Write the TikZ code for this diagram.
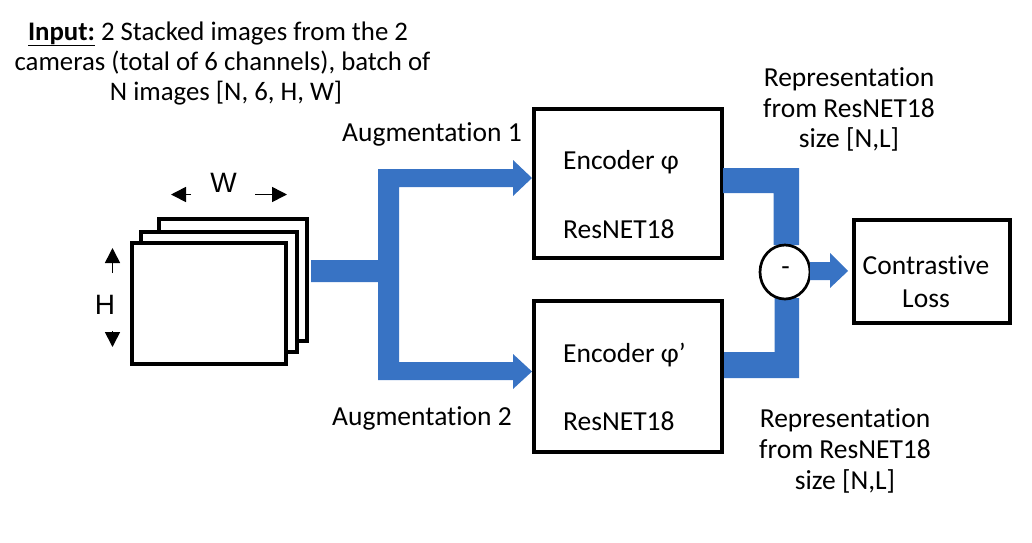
\documentclass[tikz,border=0pt]{standalone}
\usepackage{fontspec}
\setmainfont{Carlito}[Ligatures=NoCommon]
\newfontfamily\arialf{Liberation Sans}
\usetikzlibrary{arrows.meta,shapes.geometric}
\definecolor{flowblue}{RGB}{56,115,196}
\begin{document}
\begin{tikzpicture}[x=1pt,y=-1pt,
  box/.style={draw=black,line width=4pt,fill=white,rectangle,inner sep=0pt},
  txt/.style={inner sep=0pt,font=\fontsize{27.5}{31}\selectfont},
  intxt/.style={inner sep=0pt,font=\fontsize{26.8}{30}\selectfont},
  dimtxt/.style={inner sep=0pt,font=\arialf\fontsize{28}{32}\selectfont},
  flow/.style={fill=flowblue,draw=none},
  dimarrow/.style={line width=1.6pt,-{Triangle[length=15pt,width=15pt]}}]
\useasboundingbox (0,0) rectangle (1032,542);
% input description
\node[intxt,anchor=base] (in1) at (218,40) {\underline{\textbf{Input:}} 2 Stacked images from the 2};
\node[intxt,anchor=base] (in2) at (222.5,70) {cameras (total of 6 channels), batch of};
\node[intxt,anchor=base] (in3) at (226,100) {N images [N, 6, H, W]};
% stacked images
\node[box,minimum width=148pt,minimum height=122pt] (img3) at (233,280) {};
\node[box,minimum width=156pt,minimum height=120pt] (img2) at (219,292) {};
\node[box,minimum width=154pt,minimum height=121pt] (img1) at (209,303.5) {};
% W and H dimensions
\node[dimtxt,anchor=base] (wlab) at (223.5,192) {W};
\node[dimtxt,anchor=base] (hlab) at (105,314) {H};
\coordinate (wl) at (191,194.5); \coordinate (wlt) at (171,194.5);
\coordinate (wr) at (255,194.5); \coordinate (wrt) at (287,194.5);
\coordinate (hu) at (112.5,273); \coordinate (hut) at (112.5,248);
\coordinate (hd) at (112.5,331); \coordinate (hdt) at (112.5,347);
\draw[dimarrow] (wl) -- (wlt);
\draw[dimarrow] (wr) -- (wrt);
\draw[dimarrow] (hu) -- (hut);
\draw[dimarrow] (hd) -- (hdt);
% encoders
\node[box,minimum width=188pt,minimum height=149pt] (enc1) at (628,183.5) {};
\node[box,minimum width=188pt,minimum height=151pt] (enc2) at (628,376.5) {};
\node[txt,anchor=base west] (enc1a) at (563,169) {Encoder φ};
\node[txt,anchor=base west] (enc1b) at (563,238) {ResNET18};
\node[txt,anchor=base west] (enc2a) at (563,362) {Encoder φ’};
\node[txt,anchor=base west] (enc2b) at (563,430) {ResNET18};
% augmentation labels
\node[txt,anchor=base west] (aug1) at (342,141) {Augmentation 1};
\node[txt,anchor=base west] (aug2) at (332,425) {Augmentation 2};
% fork connector
\fill[flow] (311,260) -- (378,260) -- (378,169) -- (513,169) -- (513,160) -- (532,178)
  -- (513,196) -- (513,187) -- (399,187) -- (399,362) -- (513,362) -- (513,354)
  -- (532,371.5) -- (513,389) -- (513,380) -- (378,380) -- (378,282) -- (311,282) -- cycle;
% merge connectors
\fill[flow] (723,168) -- (799,168) -- (799,245) -- (773.5,245) -- (773.5,193) -- (723,193) -- cycle;
\fill[flow] (724,352) -- (774.5,352) -- (774.5,298) -- (799,298) -- (799,378) -- (724,378) -- cycle;
% difference node
\node[draw=black,line width=2.7pt,fill=white,ellipse,minimum width=50pt,minimum height=54pt,inner sep=0pt] (diff) at (785,272) {};
\node[txt] (minus) at (785.5,271) {-};
% arrow to loss
\fill[flow] (810,262) -- (830,262) -- (830,253) -- (848,271) -- (830,288) -- (830,280) -- (810,280) -- cycle;
% loss box
\node[box,minimum width=156pt,minimum height=103pt] (loss) at (932,271.5) {};
\node[txt,anchor=base] (loss1) at (926,274) {Contrastive};
\node[txt,anchor=base] (loss2) at (926,307) {Loss};
% representation labels
\node[txt,anchor=base] (rt1) at (849,86) {Representation};
\node[txt,anchor=base] (rt2) at (849,117) {from ResNET18};
\node[txt,anchor=base] (rt3) at (849,147) {size [N,L]};
\node[txt,anchor=base] (rb1) at (845,427) {Representation};
\node[txt,anchor=base] (rb2) at (845,458) {from ResNET18};
\node[txt,anchor=base] (rb3) at (845,489) {size [N,L]};
\end{tikzpicture}
\end{document}
